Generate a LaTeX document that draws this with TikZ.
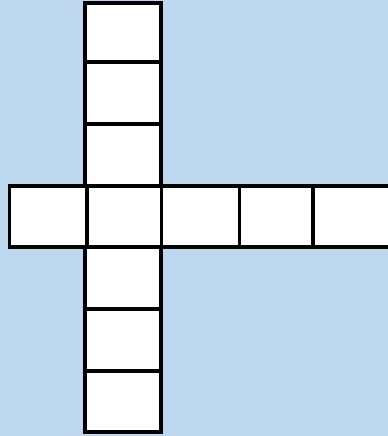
\documentclass[tikz,border=0pt]{standalone}
\definecolor{paleblue}{RGB}{189,215,238}
\tikzset{
  cell/.style={draw=black, fill=white, line width=1.9pt}
}
\begin{document}
\begin{tikzpicture}[x=0.02cm, y=-0.02cm]
	% background and frame
	\useasboundingbox (0,0) rectangle (388,436);
	\fill[paleblue] (0,0) rectangle (388,436);
	\clip (0,0) rectangle (388,436);
	
	% vertical column of cells
	\foreach \ya/\yb in {3/62, 62/124, 124/186, 247/309, 309/371, 371/432}
		\draw[cell] (85,\ya) rectangle (161,\yb);
	
	% horizontal row of cells
	\foreach \xa/\xb in {9.5/87, 87/161.5, 161.5/239.5, 239.5/313, 313/392}
		\draw[cell] (\xa,186) rectangle (\xb,247);
\end{tikzpicture}
\end{document}
